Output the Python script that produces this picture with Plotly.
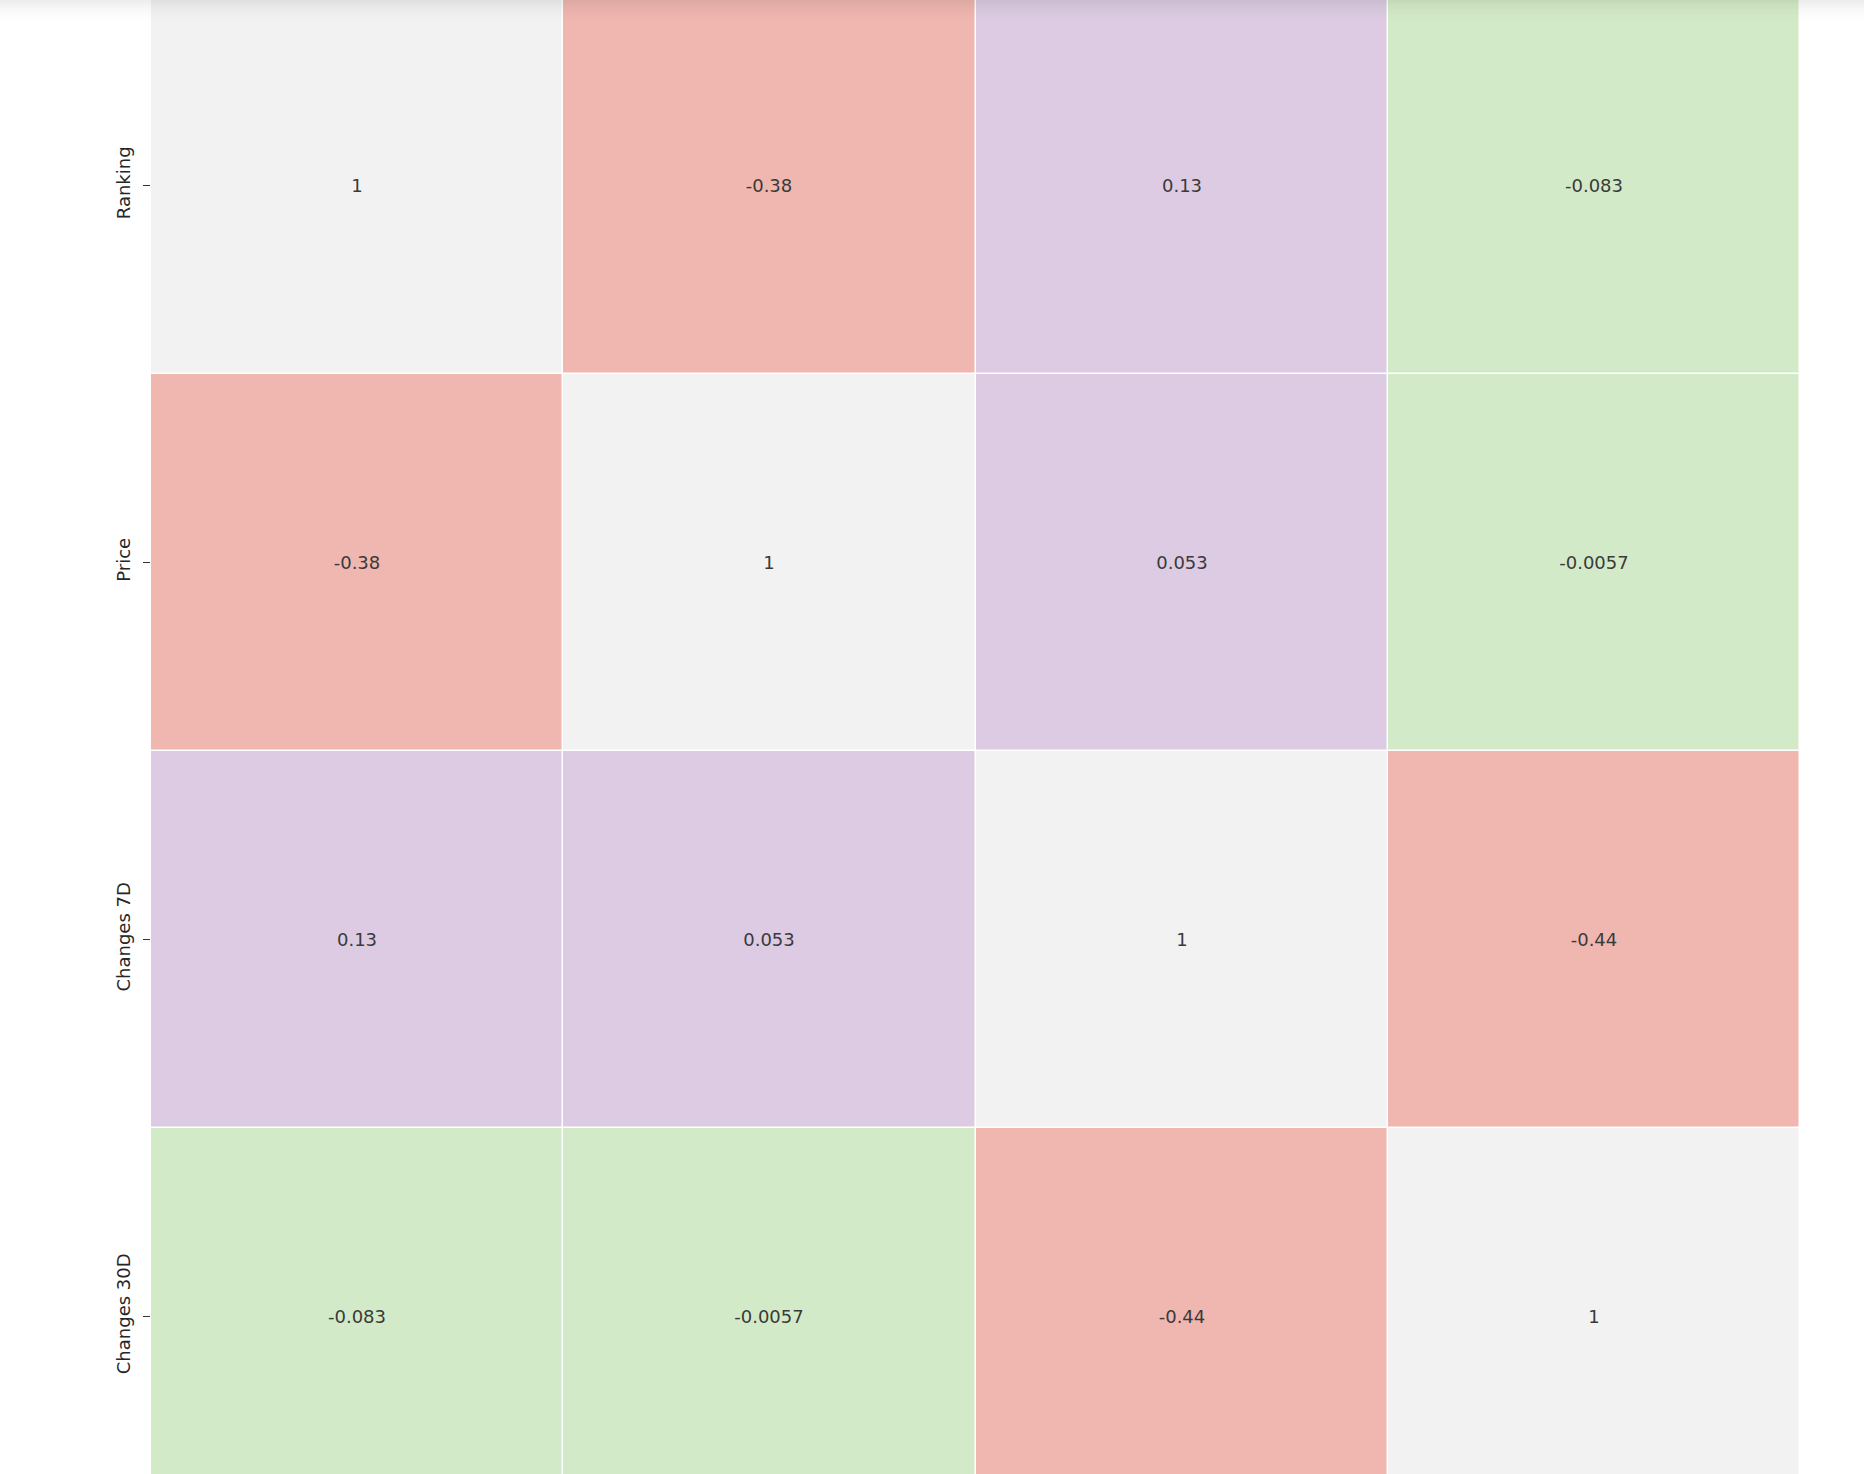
import plotly.graph_objects as go

labels = ["Ranking", "Price", "Changes 7D", "Changes 30D"]
corr = [
    [1.0, -0.38, 0.13, -0.083],
    [-0.38, 1.0, 0.053, -0.0057],
    [0.13, 0.053, 1.0, -0.44],
    [-0.083, -0.0057, -0.44, 1.0],
]
cell_text = [
    ["1", "-0.38", "0.13", "-0.083"],
    ["-0.38", "1", "0.053", "-0.0057"],
    ["0.13", "0.053", "1", "-0.44"],
    ["-0.083", "-0.0057", "-0.44", "1"],
]
# Pastel1 palette as it appears in the screenshot
palette = ["#f0b6b0", "#c9d7e6", "#d3eac8", "#dccbe2", "#f6dcb4",
           "#fbfbd6", "#e6ddca", "#f5ddea", "#f2f2f2"]
zmin, zmax = -0.44, 1.0

n = len(palette)
colorscale = []
for i, c in enumerate(palette):
    colorscale.append([i / n, c])
    colorscale.append([(i + 1) / n, c])

W, H = 1864, 1474
left, right_edge = 151, 1800
row_px = 377
top_of_first = -3  # pixel position of top of first row

y_top = -0.5 + (0 - top_of_first) / row_px
y_bot = y_top + H / row_px

fig = go.Figure(
    go.Heatmap(
        z=corr,
        x=list(range(len(labels))),
        y=list(range(len(labels))),
        text=cell_text,
        texttemplate="%{text}",
        textfont=dict(family="DejaVu Sans", size=18, color="#3a3a3a"),
        colorscale=colorscale,
        zmin=zmin,
        zmax=zmax,
        showscale=False,
        xgap=1.5,
        ygap=1.5,
        hoverinfo="skip",
    )
)

# soft shadow at the very top of the page (notebook UI)
for k in range(12):
    fig.add_shape(type="rect", xref="paper", yref="paper",
                  x0=-left / (right_edge - left), x1=(W - left) / (right_edge - left),
                  y0=1 - (k + 1) * 2 / H, y1=1 - k * 2 / H,
                  fillcolor="rgba(0,0,0,%.3f)" % (0.07 * (1 - k / 12) ** 2),
                  line=dict(width=0), layer="above")

fig.update_xaxes(
    range=[-0.5, 3.5],
    showticklabels=False,
    ticks="",
    showgrid=False,
    zeroline=False,
    showline=False,
)
fig.update_yaxes(
    range=[y_bot, y_top],
    tickmode="array",
    tickvals=list(range(len(labels))),
    ticktext=labels,
    tickangle=-90,
    ticks="outside",
    ticklen=7,
    tickwidth=1.2,
    tickcolor="#333333",
    ticklabelstandoff=6,
    tickfont=dict(family="DejaVu Sans", size=18, color="#262626"),
    showgrid=False,
    zeroline=False,
    showline=False,
)
fig.update_layout(
    width=W,
    height=H,
    margin=dict(l=left, r=W - right_edge, t=0, b=0, pad=0),
    plot_bgcolor="white",
    paper_bgcolor="white",
)
fig.write_html("out.html")
